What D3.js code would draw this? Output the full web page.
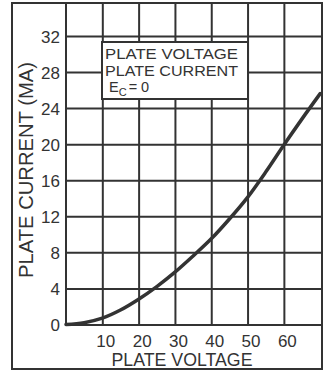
<!DOCTYPE html>
<html>
<head>
<meta charset="utf-8">
<script src="https://cdn.jsdelivr.net/npm/d3@7"></script>
<style>
  body { margin: 0; background: #fff; }
  text { font-family: "Liberation Sans", Arial, sans-serif; fill: #333; }
</style>
</head>
<body>
<svg></svg>
<script>
// data
var plateVoltage = [0, 5, 10, 15, 20, 25, 30, 35, 40, 45, 50, 55, 60, 65, 70];
var plateCurrent = [0, 0.2, 0.7, 1.6, 2.8, 4.2, 5.8, 7.6, 9.5, 11.7, 14.1, 16.9, 19.9, 22.8, 25.6];
var voltTicks = [10, 20, 30, 40, 50, 60];
var currentTicks = [0, 4, 8, 12, 16, 20, 24, 28, 32];
var boxLines = ["PLATE VOLTAGE", "PLATE CURRENT"];

var svgWidth = 326;
var svgHeight = 376;
var ink = "#333";

var frame = {left: 12, top: 3, right: 322, bottom: 369};
var plot = {left: 66, top: 3, right: 322, bottom: 324.5};

var svg = d3.select("svg")
   .attr("width", svgWidth)
   .attr("height", svgHeight);

var x = d3.scaleLinear().domain([0, 70.5]).range([plot.left, plot.right]);
var y = d3.scaleLinear().domain([0, 35.65]).range([plot.bottom, plot.top]);

// grid via axes
var yAxis = d3.axisLeft(y)
   .tickValues(currentTicks)
   .tickSize(-(plot.right - plot.left))
   .tickPadding(6)
   .tickFormat(d3.format("d"));

var gy = svg.append("g")
   .attr("transform", "translate(" + plot.left + ",0)")
   .call(yAxis);
gy.select(".domain").remove();
gy.selectAll(".tick line").attr("stroke", ink).attr("stroke-width", 2);
gy.selectAll(".tick text")
   .attr("font-size", 17)
   .attr("x", -6)
   .attr("dy", "0.36em");

var xAxis = d3.axisBottom(x)
   .tickValues(voltTicks)
   .tickSize(-(plot.bottom - plot.top))
   .tickFormat(d3.format("d"));

var gx = svg.append("g")
   .attr("transform", "translate(0," + plot.bottom + ")")
   .call(xAxis);
gx.select(".domain").remove();
gx.selectAll(".tick line").attr("stroke", ink).attr("stroke-width", 2);
gx.selectAll(".tick text")
   .attr("font-size", 17)
   .attr("x", 3)
   .attr("y", 22)
   .attr("dy", 0);

// plot left edge and outer frame
svg.append("line")
   .attr("x1", plot.left).attr("x2", plot.left)
   .attr("y1", plot.top).attr("y2", plot.bottom)
   .attr("stroke", ink).attr("stroke-width", 2);

svg.append("rect")
   .attr("x", frame.left)
   .attr("y", frame.top)
   .attr("width", frame.right - frame.left)
   .attr("height", frame.bottom - frame.top)
   .attr("fill", "none")
   .attr("stroke", ink)
   .attr("stroke-width", 2);

// curve
var line = d3.line()
   .x(function(d, i) { return x(plateVoltage[i]); })
   .y(function(d) { return y(d); })
   .curve(d3.curveCatmullRom);

svg.append("path")
   .datum(plateCurrent)
   .attr("d", line)
   .attr("fill", "none")
   .attr("stroke", ink)
   .attr("stroke-width", 3.5)
   .attr("stroke-linecap", "round");

// label box
svg.append("rect")
   .attr("x", 102).attr("y", 42)
   .attr("width", 146).attr("height", 57)
   .attr("fill", "#fff")
   .attr("stroke", ink)
   .attr("stroke-width", 2);

svg.selectAll(".boxline")
   .data(boxLines)
   .enter()
   .append("text")
   .attr("class", "boxline")
   .attr("x", 105)
   .attr("y", function(d, i) { return 59 + i * 17; })
   .attr("font-size", 14.5)
   .attr("textLength", 133)
   .attr("lengthAdjust", "spacingAndGlyphs")
   .text(function(d) { return d; });

var ec = svg.append("text")
   .attr("x", 109)
   .attr("y", 92)
   .attr("font-size", 14.5);
ec.append("tspan").text("E");
ec.append("tspan").attr("font-size", 11).attr("dy", 4).text("C");
ec.append("tspan").attr("dy", -4).attr("dx", 2).text("= 0");

// axis titles
svg.append("text")
   .attr("x", (plot.left + plot.right) / 2 - 12)
   .attr("y", 366)
   .attr("text-anchor", "middle")
   .attr("font-size", 18)
   .attr("textLength", 141)
   .attr("lengthAdjust", "spacingAndGlyphs")
   .text("PLATE VOLTAGE");

svg.append("text")
   .attr("transform", "translate(33,170) rotate(-90)")
   .attr("text-anchor", "middle")
   .attr("font-size", 20)
   .attr("textLength", 216)
   .attr("lengthAdjust", "spacingAndGlyphs")
   .text("PLATE CURRENT (MA)");
</script>
</body>
</html>
